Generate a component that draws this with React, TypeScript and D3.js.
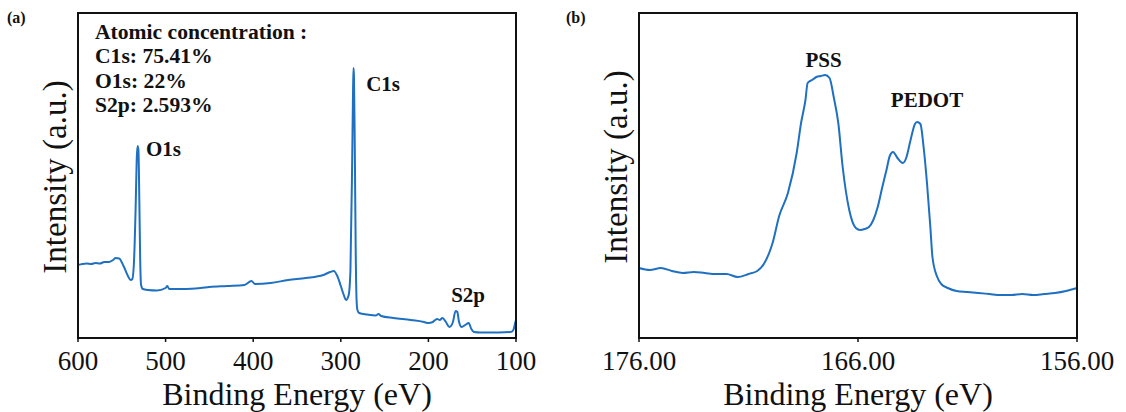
import React from "react";
import * as d3 from "d3";

// Panel (a): survey spectrum  [binding energy eV, intensity a.u.]
const surveyEnergy = [600,595,590,585,580,575,570,565,560,557,553,548,543,540,538,536,534,533,532,531,530,529,528,526,520,510,500,498,496,480,460,450,430,410,402,398,380,360,340,320,312,308,304,300,297,294,291,289,287,286,285.5,285,284,283,282,281,279,270,260,257,254,240,220,205,200,195,190,187,184,180,176,172,169,167,165,162,158,154,151,148,140,120,106,103,101,100];
const surveyIntensity = [73,74,74.5,74,75,74.5,76,76,78,80,79.5,72,62,58,59,78,138,178,192,188,138,78,53,49,48,47.5,50,52,49,49,50,51,52,53,57,54,55,58,60,63,66,67,62,52,44,38,43,68,178,248,270,263,188,88,38,28,25,23.5,22.5,24,22,20,18,16,15,16,19,18,20,16,11,16,27,26,16,11,13,15,9,6,5.5,5.5,6,8,15,18];

// Panel (b): S2p high-resolution spectrum
const s2pEnergy = [176,175.5,175,174.5,174,173.5,173,172.5,172,171.5,171,170.6,170.3,169.9,169.6,169.2,168.8,168.6,168.4,168.3,168.1,167.9,167.7,167.5,167.3,167.1,166.9,166.7,166.4,166.1,165.9,165.7,165.5,165.3,165.1,164.9,164.7,164.55,164.4,164.2,163.95,163.8,163.6,163.4,163.3,163.15,163.0,162.85,162.7,162.6,162.4,162.2,161.9,161.5,161,160.5,160,159.5,159,158.5,158,157.5,157,156.5,156];
const s2pIntensity = [70,68,70,67,65,66,65,64,64,61,64,67,74,95,122,145,185,215,238,255,258,261,262,263,260,240,215,171,128,110,108,109,111,118,131,150,168,182,186,180,175,180,198,214,216,214,190,155,112,81,62,54,50,47,46,45,44,43,43,44,43,44,45,47,50];

const surveyTicks = [600, 500, 400, 300, 200, 100];
const s2pTicks = [176, 166, 156];
const concentrationLines = ["Atomic concentration :", "C1s: 75.41%", "O1s: 22%", "S2p: 2.593%"];
const surveyPeaks = [
  { label: "O1s", energy: 522.5, value: 182 },
  { label: "C1s", energy: 271, value: 247 },
  { label: "S2p", energy: 174, value: 36 },
];
const s2pPeaks = [
  { label: "PSS", energy: 168.4, value: 271 },
  { label: "PEDOT", energy: 164.5, value: 231 },
];

const BLUE = "#1f70c1";
const SERIF = "'Liberation Serif', 'Times New Roman', serif";
const TOP = 13;
const BOTTOM = 338;

type PanelProps = {
  left: number;
  right: number;
  domain: [number, number];
  energy: number[];
  intensity: number[];
  ticks: number[];
  fmt: (v: number) => string;
  tag: string;
  tagX: number;
  yTitleX: number;
  yTitleY: number;
  peaks: { label: string; energy: number; value: number }[];
  children?: React.ReactNode;
};

function Panel(p: PanelProps) {
  const x = d3.scaleLinear().domain(p.domain).range([p.left, p.right]);
  const y = d3.scaleLinear().domain([0, 325]).range([BOTTOM, TOP]);
  const pts: [number, number][] = p.energy.map((e, i) => [e, p.intensity[i]]);
  const line = d3
    .line<[number, number]>()
    .x((d) => x(d[0]))
    .y((d) => y(d[1]))
    .curve(d3.curveMonotoneX);
  return (
    <g>
      <path d={line(pts) || ""} fill="none" stroke={BLUE} strokeWidth={2} strokeLinejoin="round" />
      <rect x={p.left} y={TOP} width={p.right - p.left} height={BOTTOM - TOP} fill="none" stroke="#111" strokeWidth={2} />
      {p.ticks.map((t) => (
        <g key={t}>
          <line x1={x(t)} x2={x(t)} y1={BOTTOM} y2={BOTTOM + 4} stroke="#111" strokeWidth={1.5} />
          <text x={x(t)} y={370} textAnchor="middle" fontFamily={SERIF} fontSize={27} fill="#111">
            {p.fmt(t)}
          </text>
        </g>
      ))}
      <text x={(p.left + p.right) / 2} y={404.5} textAnchor="middle" fontFamily={SERIF} fontSize={32} fill="#111">
        Binding Energy (eV)
      </text>
      <text
        transform={`translate(${p.yTitleX},${p.yTitleY}) rotate(-90)`}
        textAnchor="middle"
        fontFamily={SERIF}
        fontSize={33}
        fill="#111"
      >
        Intensity (a.u.)
      </text>
      <text x={p.tagX} y={23} fontFamily={SERIF} fontSize={16} fontWeight="bold" fill="#111">
        {p.tag}
      </text>
      {p.peaks.map((pk) => (
        <text key={pk.label} x={x(pk.energy)} y={y(pk.value)} fontFamily={SERIF} fontSize={21} fontWeight="bold" fill="#111">
          {pk.label}
        </text>
      ))}
      {p.children}
    </g>
  );
}

export default function App() {
  return (
    <svg width={1126} height={412} style={{ position: "absolute", left: 0, top: 0, background: "#fff" }}>
      <rect width={1126} height={412} fill="#fff" />
      <Panel
        left={78}
        right={516}
        domain={[600, 100]}
        energy={surveyEnergy}
        intensity={surveyIntensity}
        ticks={surveyTicks}
        fmt={(v) => String(v)}
        tag="(a)"
        tagX={7}
        yTitleX={66}
        yTitleY={177}
        peaks={surveyPeaks}
      >
        {concentrationLines.map((s, i) => (
          <text key={s} x={95} y={39 + i * 24.3} fontFamily={SERIF} fontSize={21.6} fontWeight="bold" fill="#111">
            {s}
          </text>
        ))}
      </Panel>
      <Panel
        left={639}
        right={1077}
        domain={[176, 156]}
        energy={s2pEnergy}
        intensity={s2pIntensity}
        ticks={s2pTicks}
        fmt={(v) => v.toFixed(2)}
        tag="(b)"
        tagX={566}
        yTitleX={627}
        yTitleY={167}
        peaks={s2pPeaks}
      />
    </svg>
  );
}
